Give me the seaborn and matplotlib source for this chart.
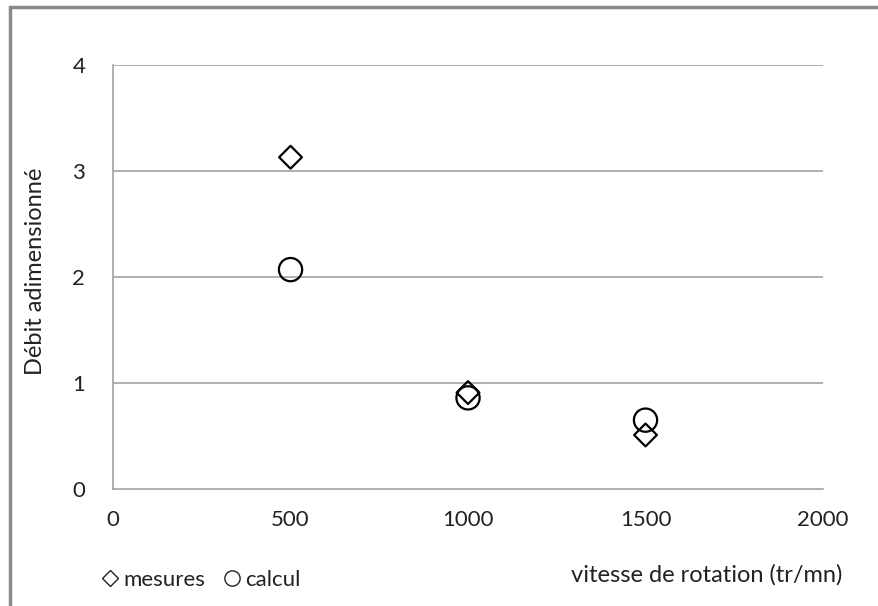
import pandas as pd
import matplotlib
matplotlib.use("Agg")
import matplotlib.pyplot as plt
import seaborn as sns
from matplotlib.lines import Line2D
from matplotlib.patches import Rectangle

# Donnees
vitesse = [500, 1000, 1500]
mesures = [3.13, 0.91, 0.51]
calcul = [2.07, 0.86, 0.65]

x_ticks = [0, 500, 1000, 1500, 2000]
y_ticks = [0, 1, 2, 3, 4]

df_mes = pd.DataFrame({'vitesse': vitesse, 'debit': mesures})
df_cal = pd.DataFrame({'vitesse': vitesse, 'debit': calcul})

sns.set_theme(style="white")
plt.rcParams['font.family'] = ['Lato', 'DejaVu Sans']

fig = plt.figure(figsize=(8.79, 6.06), dpi=100)
ax = fig.add_axes([0.1286, 0.193, 0.8077, 0.6997])

sns.scatterplot(data=df_mes, x='vitesse', y='debit', marker='D', s=135,
                linewidth=1.6, ax=ax)
ax.collections[-1].set_facecolor('none')
ax.collections[-1].set_edgecolor('black')
sns.scatterplot(data=df_cal, x='vitesse', y='debit', marker='o', s=280,
                linewidth=1.6, ax=ax)
ax.collections[-1].set_facecolor('none')
ax.collections[-1].set_edgecolor('black')

ax.set_xlim(0, 2000)
ax.set_ylim(0, 4)
ax.set_xticks(x_ticks)
ax.set_yticks(y_ticks)
ax.tick_params(axis='both', length=0, labelsize=16, colors='#222222')
ax.tick_params(axis='x', pad=15)
ax.tick_params(axis='y', pad=20)

for y in y_ticks[1:]:
    ax.axhline(y, color='#9a9a9a', lw=1.1, zorder=0)
for side in ['top', 'right']:
    ax.spines[side].set_visible(False)
for side in ['left', 'bottom']:
    ax.spines[side].set_color('#9a9a9a')
    ax.spines[side].set_linewidth(1.1)

ax.set_xlabel('')
ax.set_ylabel('')
fig.text(0.04, 0.553, 'Débit adimensionné', rotation=90, ha='center',
         va='center', fontsize=17, color='#222222')
fig.text(0.958, 0.052, 'vitesse de rotation (tr/mn)', ha='right',
         va='center', fontsize=17, color='#222222')

handles = [
    Line2D([], [], ls='none', marker='D', ms=8, mfc='none', mec='#222222', mew=1.0),
    Line2D([], [], ls='none', marker='o', ms=11, mfc='none', mec='#222222', mew=1.0),
]
fig.legend(handles, ['mesures', 'calcul'], loc='center left',
           bbox_to_anchor=(0.092, 0.043), ncol=2, frameon=False, fontsize=16,
           handletextpad=0.2, columnspacing=0.8, handlelength=0.8,
           labelcolor='#222222')

# cadre gris du graphique
fig.patches.append(Rectangle((0.011, -0.01), 1.0, 1.0 - 0.012 + 0.01,
                             transform=fig.transFigure, fill=False,
                             edgecolor='#8a8a8a', lw=2.5, zorder=10))

plt.savefig('out.png', dpi=100)
